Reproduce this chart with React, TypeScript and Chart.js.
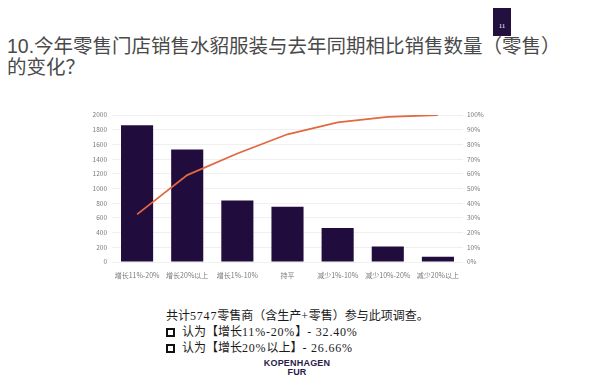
import React, { useEffect, useRef } from "react";
import { Chart, registerables } from "chart.js";

Chart.register(...registerables);

const categories = ["增长11%-20%", "增长20%以上", "增长1%-10%", "持平", "减少1%-10%", "减少10%-20%", "减少20%以上"];
const counts = [1862, 1532, 838, 752, 462, 210, 72];
const cumulativePct = [32.4, 59.1, 73.8, 86.9, 95.0, 98.7, 100];
const leftTicks = [0, 200, 400, 600, 800, 1000, 1200, 1400, 1600, 1800, 2000];

const BAR = "#200c3d";
const LINE = "#e2683f";
const TICK = "#7a7a7a";
const CJK = '"Noto Sans CJK SC", "Noto Sans", sans-serif';

function Mixed({ text }: { text: string }) {
  const parts = text.split(/([\x00-\x7F]+)/).filter((p) => p.length > 0);
  return (
    <>
      {parts.map((p, i) =>
        /^[\x00-\x7F]+$/.test(p) ? (
          <span key={i} style={{ letterSpacing: 0.8 }}>{p}</span>
        ) : (
          <span key={i}>{p}</span>
        )
      )}
    </>
  );
}

function Box() {
  return (
    <span
      style={{
        display: "inline-block",
        width: 9,
        height: 9,
        border: "2px solid #111",
        boxSizing: "border-box",
        verticalAlign: "-1px",
        marginRight: 7,
      }}
    />
  );
}

export default function App() {
  const ref = useRef<HTMLCanvasElement | null>(null);

  useEffect(() => {
    if (!ref.current) return;
    const chart = new Chart(ref.current, {
      type: "bar",
      data: {
        labels: categories,
        datasets: [
          {
            type: "line",
            data: cumulativePct,
            yAxisID: "y1",
            borderColor: LINE,
            borderWidth: 1.8,
            pointRadius: 0,
            tension: 0,
            order: 0,
          } as any,
          {
            type: "bar",
            data: counts,
            yAxisID: "y",
            backgroundColor: BAR,
            categoryPercentage: 1,
            barPercentage: 0.64,
            order: 1,
          },
        ],
      },
      options: {
        animation: false,
        responsive: false,
        maintainAspectRatio: false,
        layout: { padding: { top: 10, left: 0, right: 0, bottom: 0 } },
        plugins: { legend: { display: false }, tooltip: { enabled: false } },
        scales: {
          x: {
            grid: { display: false },
            border: { display: false },
            ticks: { color: TICK, font: { size: 7, family: CJK }, maxRotation: 0, autoSkip: false, padding: 1 },
            afterFit: (s: any) => { s.height = 20; },
          },
          y: {
            min: 0,
            max: 2000,
            afterBuildTicks: (s: any) => { s.ticks = leftTicks.map((v) => ({ value: v })); },
            grid: { color: "#ececec", lineWidth: 0.8, drawTicks: false },
            border: { display: false },
            ticks: { color: TICK, font: { size: 6.5, family: CJK }, padding: 5, callback: (v: any) => String(v) },
            afterFit: (s: any) => { s.width = 32; },
          },
          y1: {
            position: "right",
            min: 0,
            max: 100,
            grid: { display: false, drawTicks: false },
            border: { display: false },
            ticks: { stepSize: 10, color: TICK, font: { size: 6.5, family: CJK }, padding: 4, callback: (v: any) => v + "%" },
            afterFit: (s: any) => { s.width = 27; },
          },
        },
      },
    });
    return () => chart.destroy();
  }, []);

  return (
    <div style={{ position: "absolute", left: 0, top: 0, width: 604, height: 385, background: "#fff", overflow: "hidden" }}>
      <div
        style={{
          position: "absolute",
          left: 493,
          top: 8,
          width: 18,
          height: 28,
          background: "#24103f",
          color: "#fff",
          fontFamily: '"Liberation Serif", serif',
          fontSize: 7,
          textAlign: "center",
          lineHeight: "7px",
          boxSizing: "border-box",
          paddingTop: 15,
        }}
      >
        11
      </div>
      <div
        style={{
          position: "absolute",
          left: 7,
          top: 36,
          width: 590,
          fontFamily: '"Liberation Sans", "Noto Sans CJK SC", sans-serif',
          fontSize: 19.5,
          lineHeight: "21px",
          color: "#4a4a4a",
          whiteSpace: "nowrap",
        }}
      >
        10.今年零售门店销售水貂服装与去年同期相比销售数量（零售）
        <br />
        的变化？
      </div>
      <canvas ref={ref} width={410} height={177} style={{ position: "absolute", left: 80, top: 105, width: 410, height: 177 }} />
      <div
        style={{
          position: "absolute",
          left: 166,
          top: 308,
          fontFamily: '"Liberation Serif", "Noto Sans CJK SC", serif',
          fontSize: 12,
          lineHeight: "16px",
          color: "#1a1a1a",
          whiteSpace: "nowrap",
        }}
      >
        <div><Mixed text="共计5747零售商（含生产+零售）参与此项调查。" /></div>
        <div>
          <Box />
          <Mixed text="认为【增长11%-20%】- 32.40%" />
        </div>
        <div>
          <Box />
          <Mixed text="认为【增长20%以上】- 26.66%" />
        </div>
      </div>
      <div
        style={{
          position: "absolute",
          left: 247,
          top: 359,
          width: 100,
          textAlign: "center",
          fontFamily: '"Liberation Sans", sans-serif',
          fontWeight: "bold",
          fontSize: 9,
          letterSpacing: 0.2,
          lineHeight: "9px",
          color: "#2b1a4a",
        }}
      >
        KOPENHAGEN
        <br />
        FUR
      </div>
    </div>
  );
}
